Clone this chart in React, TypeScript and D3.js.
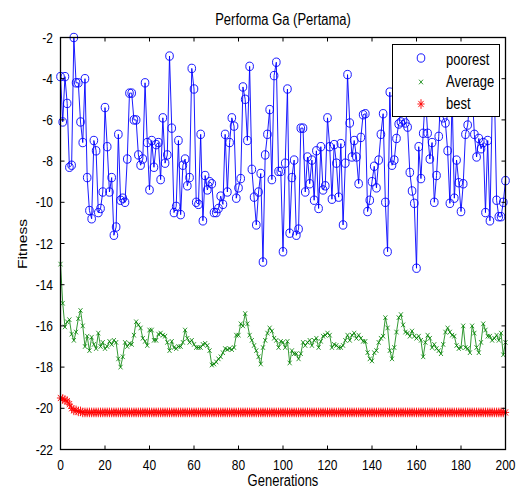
import React from 'react';
import * as d3 from 'd3';

const poorest: number[] = [
  -3.9, -6.1, -3.9, -5.2, -8.3, -8.2, -2.0, -4.2, -4.2, -6.1,
  -7.1, -4.0, -8.8, -10.4, -10.8, -7.0, -7.5, -10.5, -10.3, -9.5,
  -5.4, -7.3, -9.5, -8.8, -11.6, -11.2, -6.7, -9.9, -9.8, -10.0,
  -7.9, -4.7, -4.7, -6.0, -6.0, -7.7, -8.2, -7.9, -4.2, -7.1,
  -9.4, -7.0, -8.3, -7.2, -7.1, -8.9, -5.9, -8.1, -7.7, -2.9,
  -6.4, -10.5,
  -10.2, -7.0, -10.6, -8.2, -7.9, -9.2, -8.8, -3.5, -4.5, -10.0,
  -10.1, -6.7, -10.9, -8.7, -9.4, -9.0, -9.1, -10.5, -10.5, -10.3,
  -9.7, -10.1, -6.7, -9.5, -7.1, -5.9, -6.3, -9.8, -9.3, -8.85,
  -4.4, -5.0, -7.0, -3.4, -8.4, -9.75, -11.1, -9.5, -8.6, -12.9,
  -7.7, -6.7, -5.5, -8.9, -3.85, -3.2, -8.5, -8.5, -12.4, -8.1,
  -4.5, -11.5,
  -8.8, -7.95, -11.6, -11.3, -6.4, -6.4, -9.5, -7.8, -9.1, -7.95,
  -9.9, -7.5, -10.3, -7.3, -9.4, -9.2, -5.9, -7.3, -9.85, -7.2,
  -8.1, -9.75, -7.15, -11.1, -8.1, -3.8, -6.15, -7.8, -7.0, -7.8,
  -9.1, -6.85, -5.75, -5.7, -10.45, -9.9, -9.0, -8.25, -9.3, -7.95,
  -6.7, -5.7, -10.0, -12.4, -4.65, -8.2, -7.95, -6.9, -6.2, -6.1,
  -6.0,
  -6.15, -6.35, -8.55, -9.45, -10.05, -13.2, -7.3, -8.85, -6.65, -4.8,
  -6.65, -7.9, -7.1, -10.0, -8.7, -6.8, -4.5, -5.9, -6.15, -7.5,
  -10.05, -4.8, -9.8, -7.95, -9.05, -10.45, -9.1, -6.7, -6.25, -5.0,
  -4.6, -6.7, -7.8, -6.9, -7.4, -7.1, -10.5, -7.0, -10.9, -5.5,
  -4.5, -9.9, -10.7, -10.7, -10.0, -8.95,
];

const average: number[] = [
  -13.0, -14.9, -16.05, -15.8, -15.7, -16.4, -16.7, -16.3, -15.65, -15.25,
  -16.0, -17.0, -16.5, -17.2, -16.55, -16.9, -17.1, -16.35, -17.0, -16.8,
  -17.1, -17.0, -16.75, -16.9, -16.7, -16.8, -17.6, -18.0, -17.5, -16.8,
  -17.0, -16.85, -16.9, -16.45, -15.8, -15.95, -16.1, -16.6, -16.75, -16.95,
  -16.2, -16.2, -16.7, -16.7, -16.4, -16.35, -16.45, -16.5, -16.8, -17.2,
  -16.75, -17.05, -17.1, -17.0, -17.0, -16.8, -16.2, -16.6, -16.8, -16.7,
  -16.9, -17.05, -17.05, -17.05, -16.9, -16.85, -16.95, -17.2, -17.9, -17.85,
  -17.75, -17.6, -17.5, -17.3, -17.1, -17.15, -17.1, -17.15, -17.05, -16.45,
  -16.45, -15.9, -16.0, -15.4, -15.9, -16.45, -16.7, -16.95, -17.2, -17.5,
  -17.85, -17.05, -16.7, -16.35, -16.1, -16.25, -16.6, -16.7, -17.05, -16.75,
  -16.8, -17.05, -16.75, -17.8, -17.2, -17.35, -17.35, -17.6, -17.35, -16.8,
  -16.95, -16.8, -16.7, -16.95, -16.7, -16.6, -17.05, -16.75, -16.5, -16.45,
  -16.35, -16.45, -17.05, -16.9, -16.95, -17.05, -17.05, -16.95, -16.7, -16.45,
  -16.7, -16.45, -16.35, -16.6, -16.45, -16.6, -16.75, -16.75, -17.3, -17.6,
  -17.7, -17.3, -17.2, -16.8, -16.6, -16.5, -15.6, -16.1, -17.2, -17.6,
  -17.05, -16.3, -15.6, -15.45, -15.95, -16.3, -16.35, -16.5, -16.25, -16.5,
  -16.6, -16.5, -16.7, -17.5, -16.8, -16.45, -16.6, -17.05, -16.9, -17.1,
  -17.2, -17.35, -16.9, -16.3, -16.1, -16.3, -16.45, -16.5, -16.95, -17.1,
  -17.05, -16.0, -17.05, -17.1, -17.3, -16.0, -16.35, -17.05, -17.3, -16.8,
  -15.9, -16.2, -16.5, -16.5, -16.7, -16.6, -16.45, -16.7, -16.35, -17.4,
  -16.8,
];

const best: number[] = [
  -19.5, -19.55, -19.6, -19.65, -19.8, -20.0, -20.1, -20.1, -20.15, -20.15,
  -20.2, -20.2, -20.2, -20.2, -20.2, -20.2, -20.2, -20.2, -20.2, -20.2,
  -20.2, -20.2, -20.2, -20.2, -20.2, -20.2, -20.2, -20.2, -20.2, -20.2,
  -20.2, -20.2, -20.2, -20.2, -20.2, -20.2, -20.2, -20.2, -20.2, -20.2,
  -20.2, -20.2, -20.2, -20.2, -20.2, -20.2, -20.2, -20.2, -20.2, -20.2,
  -20.2, -20.2, -20.2, -20.2, -20.2, -20.2, -20.2, -20.2, -20.2, -20.2,
  -20.2, -20.2, -20.2, -20.2, -20.2, -20.2, -20.2, -20.2, -20.2, -20.2,
  -20.2, -20.2, -20.2, -20.2, -20.2, -20.2, -20.2, -20.2, -20.2, -20.2,
  -20.2, -20.2, -20.2, -20.2, -20.2, -20.2, -20.2, -20.2, -20.2, -20.2,
  -20.2, -20.2, -20.2, -20.2, -20.2, -20.2, -20.2, -20.2, -20.2, -20.2,
  -20.2, -20.2, -20.2, -20.2, -20.2, -20.2, -20.2, -20.2, -20.2, -20.2,
  -20.2, -20.2, -20.2, -20.2, -20.2, -20.2, -20.2, -20.2, -20.2, -20.2,
  -20.2, -20.2, -20.2, -20.2, -20.2, -20.2, -20.2, -20.2, -20.2, -20.2,
  -20.2, -20.2, -20.2, -20.2, -20.2, -20.2, -20.2, -20.2, -20.2, -20.2,
  -20.2, -20.2, -20.2, -20.2, -20.2, -20.2, -20.2, -20.2, -20.2, -20.2,
  -20.2, -20.2, -20.2, -20.2, -20.2, -20.2, -20.2, -20.2, -20.2, -20.2,
  -20.2, -20.2, -20.2, -20.2, -20.2, -20.2, -20.2, -20.2, -20.2, -20.2,
  -20.2, -20.2, -20.2, -20.2, -20.2, -20.2, -20.2, -20.2, -20.2, -20.2,
  -20.2, -20.2, -20.2, -20.2, -20.2, -20.2, -20.2, -20.2, -20.2, -20.2,
  -20.2, -20.2, -20.2, -20.2, -20.2, -20.2, -20.2, -20.2, -20.2, -20.2,
  -20.2,
];

const xTicks: number[] = [0, 20, 40, 60, 80, 100, 120, 140, 160, 180, 200];
const yTicks: number[] = [-22, -20, -18, -16, -14, -12, -10, -8, -6, -4, -2];
const legendLabels: string[] = ['poorest', 'Average', 'best'];

const W = 519;
const H = 491;
const L = 60.5, R = 505.5, T = 37.5, B = 449.5;
const FONT = '"Liberation Sans", Arial, sans-serif';
const SY = 1.2; // vertical stretch of the reference picture

const BLUE = '#0000ff';
const GREEN = '#008000';
const RED = '#ff0000';

const xMark = 'M-2,-2.3L2,2.3M-2,2.3L2,-2.3';
const starMark = 'M-3.6,0H3.6M0,-4.8V4.8M-2.6,-3.1L2.6,3.1M-2.6,3.1L2.6,-3.1';

function T2(props: { x: number; y: number; size: number; anchor?: string; rotate?: boolean; dy?: string; children: React.ReactNode }) {
  const { x, y, size, anchor, rotate, dy, children } = props;
  const tf = rotate
    ? `translate(${x},${y}) rotate(-90) scale(${SY},1)`
    : `translate(${x},${y}) scale(1,${SY})`;
  return (
    <text transform={tf} fontSize={size} textAnchor={anchor || 'start'} dy={dy} fill="#000">{children}</text>
  );
}

export default function App() {
  const x = d3.scaleLinear().domain([0, 200]).range([L, R]);
  const y = d3.scaleLinear().domain([-22, -2]).range([B, T]);
  const line = d3.line<number>().x((_, i) => x(i)).y((d) => y(d));

  const legendY = [60, 82, 104];

  return (
    <svg width={W} height={H} style={{ position: 'absolute', left: 0, top: 0, background: '#fff' }}
      fontFamily={FONT}>
      <rect x={0} y={0} width={W} height={H} fill="#fff" />
      {/* poorest */}
      <path d={line(poorest) || ''} fill="none" stroke={BLUE} strokeWidth={0.9} />
      {poorest.map((v, i) => (
        <ellipse key={'p' + i} cx={x(i)} cy={y(v)} rx={3.8} ry={4.2} fill="none" stroke={BLUE} strokeWidth={0.9} />
      ))}
      {/* average */}
      <path d={line(average) || ''} fill="none" stroke={GREEN} strokeWidth={0.8} />
      {average.map((v, i) => (
        <path key={'a' + i} d={xMark} transform={`translate(${x(i)},${y(v)})`} fill="none" stroke={GREEN} strokeWidth={0.8} />
      ))}
      {/* best */}
      <path d={line(best) || ''} fill="none" stroke={RED} strokeWidth={0.8} />
      {best.map((v, i) => (
        <path key={'b' + i} d={starMark} transform={`translate(${x(i)},${y(v)})`} fill="none" stroke={RED} strokeWidth={0.9} />
      ))}

      {/* axes box */}
      <rect x={L} y={T} width={R - L} height={B - T} fill="none" stroke="#000" strokeWidth={1.3} />
      {xTicks.map((t) => (
        <g key={'xt' + t}>
          <line x1={x(t)} x2={x(t)} y1={B} y2={B - 4} stroke="#000" strokeWidth={1} />
          <line x1={x(t)} x2={x(t)} y1={T} y2={T + 4} stroke="#000" strokeWidth={1} />
          <T2 x={x(t)} y={469.5} size={12} anchor="middle">{t}</T2>
        </g>
      ))}
      {yTicks.map((t) => (
        <g key={'yt' + t}>
          <line x1={L} x2={L + 4} y1={y(t)} y2={y(t)} stroke="#000" strokeWidth={1} />
          <line x1={R} x2={R - 4} y1={y(t)} y2={y(t)} stroke="#000" strokeWidth={1} />
          <T2 x={53} y={y(t)} size={12} anchor="end" dy="0.35em">{t}</T2>
        </g>
      ))}

      <T2 x={(L + R) / 2} y={25} size={13} anchor="middle">Performa Ga (Pertama)</T2>
      <T2 x={(L + R) / 2} y={486} size={13} anchor="middle">Generations</T2>
      <T2 x={27} y={244} size={13} anchor="middle" rotate>Fitness</T2>

      {/* legend */}
      <rect x={392.5} y={44.5} width={107} height={72} fill="#fff" stroke="#000" strokeWidth={1} />
      <ellipse cx={421} cy={legendY[0] - 2} rx={3.8} ry={4.2} fill="none" stroke={BLUE} strokeWidth={0.9} />
      <path d={xMark} transform={`translate(421,${legendY[1]})`} fill="none" stroke={GREEN} strokeWidth={0.8} />
      <path d={starMark} transform={`translate(421,${legendY[2]})`} fill="none" stroke={RED} strokeWidth={0.9} />
      {legendLabels.map((s, i) => (
        <T2 key={s} x={446} y={legendY[i]} size={13} dy="0.35em">{s}</T2>
      ))}
    </svg>
  );
}
